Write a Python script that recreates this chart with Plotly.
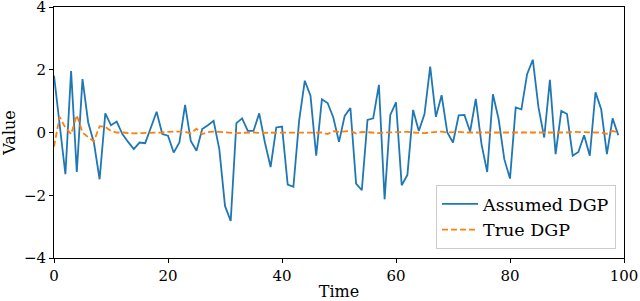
import plotly.graph_objects as go

time = list(range(100))

assumed_dgp = [
    1.81, 0.30, -1.33, 1.96, -1.26, 1.70, 0.32, -0.32, -1.49, 0.61,
    0.23, 0.35, -0.05, -0.30, -0.53, -0.32, -0.34, 0.16, 0.66, -0.05,
    -0.10, -0.64, -0.32, 0.88, -0.27, -0.58, 0.11, 0.23, 0.37, -0.53,
    -2.34, -2.82, 0.30, 0.45, 0.05, 0.05, 0.61, -0.32, -1.10, 0.16,
    0.19, -1.66, -1.73, 0.37, 1.65, 1.17, -0.74, 1.06, 0.94, 0.48,
    -0.30, 0.53, 0.78, -1.63, -1.84, 0.40, 0.45, 1.52, -2.13, 0.56,
    0.96, -1.68, -1.35, 0.72, 0.05, 0.59, 2.10, 0.50, 1.19, 0.00,
    -0.32, 0.55, 0.56, 0.03, 1.07, -0.37, -1.26, 1.22, 0.43, -0.85,
    -1.47, 0.80, 0.74, 1.86, 2.32, 0.80, -0.16, 1.68, -0.69, 0.69,
    0.59, -0.74, -0.62, -0.09, -0.74, 1.28, 0.74, -0.69, 0.45, -0.09,
]

true_dgp = [
    -0.45, 0.50, 0.15, -0.05, 0.55, 0.00, -0.15, -0.28, 0.20, 0.18,
    0.05, 0.00, 0.00, -0.02, -0.03, -0.02, -0.02, 0.00, 0.00, 0.00,
    0.02, 0.03, 0.03, 0.02, -0.03, 0.12, -0.05, 0.01, 0.03, 0.02,
    0.00, -0.01, -0.02, -0.01, 0.00, 0.00, -0.01, -0.01, 0.00, 0.01,
    0.01, 0.00, -0.01, 0.00, 0.00, 0.01, 0.01, 0.00, -0.05, 0.04,
    0.02, 0.03, 0.05, -0.03, 0.02, 0.01, -0.01, -0.02, 0.00, 0.01,
    0.02, 0.03, 0.02, 0.00, -0.01, -0.02, 0.00, 0.01, 0.03, 0.00,
    0.01, 0.02, 0.00, -0.01, 0.00, 0.00, 0.01, 0.00, 0.00, 0.00,
    0.01, 0.00, 0.00, 0.00, 0.00, 0.00, 0.01, -0.01, 0.00, 0.00,
    0.00, 0.02, 0.01, 0.00, 0.00, 0.00, 0.00, -0.04, 0.05, 0.00,
]

x_ticks = [0, 20, 40, 60, 80, 100]
y_ticks = [-4, -2, 0, 2, 4]
y_tick_labels = ["\u22124", "\u22122", "0", "2", "4"]

font = "DejaVu Serif"

fig = go.Figure()
fig.add_trace(go.Scatter(x=time, y=assumed_dgp, mode="lines", name="Assumed DGP",
                         line=dict(color="#1f77b4", width=1.8)))
fig.add_trace(go.Scatter(x=time, y=true_dgp, mode="lines", name="True DGP",
                         line=dict(color="#ff7f0e", width=1.8, dash="6px,3px")))

axis_common = dict(showgrid=False, zeroline=False, showline=True, linecolor="black",
                   linewidth=1, mirror=True, ticks="outside", ticklen=4, tickwidth=1,
                   tickcolor="black", automargin=False, ticklabeloverflow="allow",
                   tickfont=dict(family=font, size=15, color="black"))

fig.update_layout(
    width=640, height=301,
    margin=dict(l=54, r=16, t=7, b=43),
    paper_bgcolor="white", plot_bgcolor="white",
    font=dict(family=font, size=15, color="black"),
    xaxis=dict(range=[0, 100], tickvals=x_ticks,
               title=dict(text="Time", font=dict(family=font, size=16), standoff=2),
               **axis_common),
    yaxis=dict(range=[-4, 4], tickvals=y_ticks, ticktext=y_tick_labels,
               title=dict(text="Value", font=dict(family=font, size=16), standoff=4),
               **axis_common),
    legend=dict(x=0.986, y=0.036, xanchor="right", yanchor="bottom",
                bgcolor="rgba(255,255,255,0.8)", bordercolor="#cccccc", borderwidth=1,
                font=dict(family=font, size=17.5), itemwidth=36,
                tracegroupgap=0),
    showlegend=True,
)

fig.write_html("out.html",
               config={"displayModeBar": False},
               post_script="document.body.style.margin='0';document.body.style.overflow='hidden';")
